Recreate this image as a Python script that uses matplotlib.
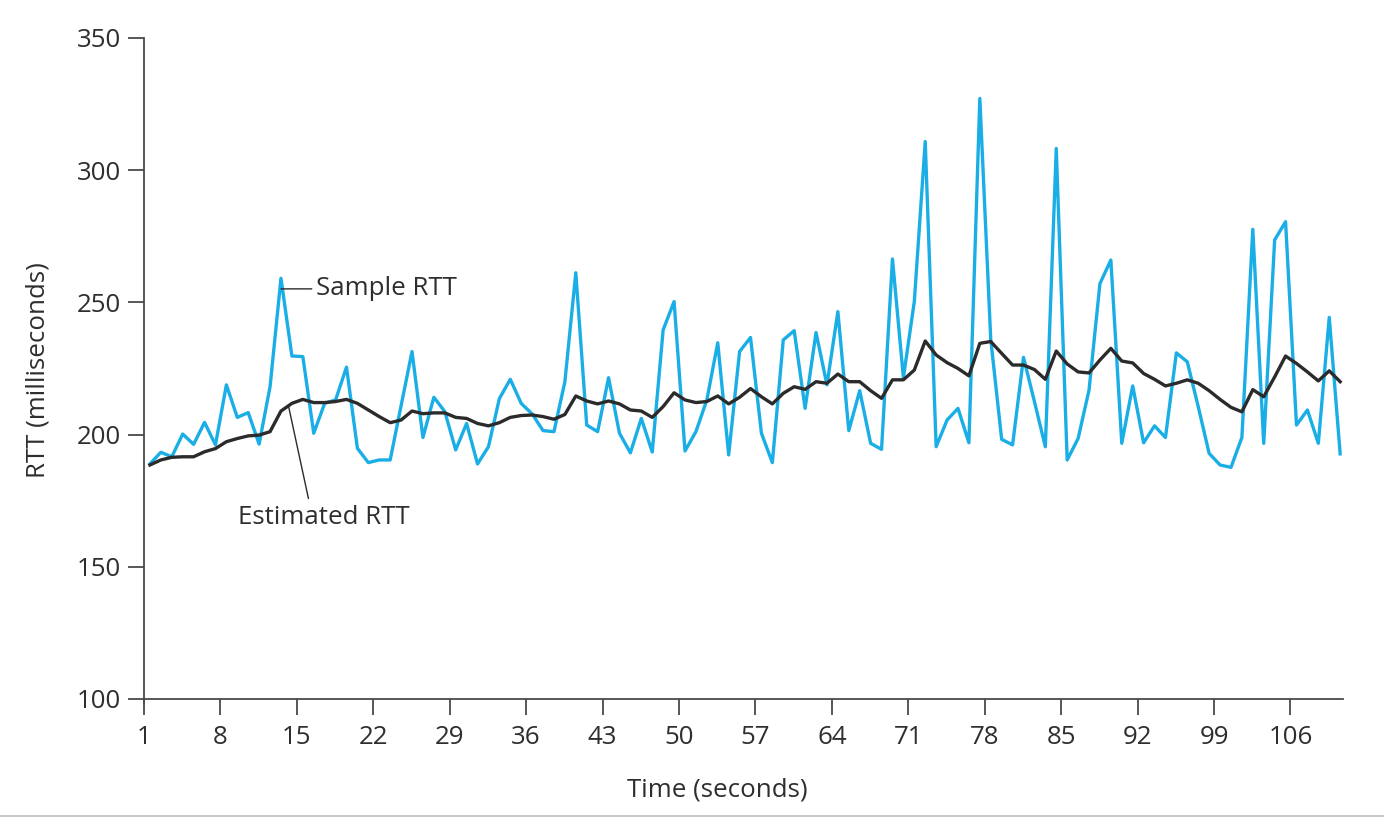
import numpy as np
import matplotlib.pyplot as plt
from matplotlib.lines import Line2D

plt.rcParams['font.family'] = ['Open Sans', 'DejaVu Sans']

# RTT samples (ms), one per second
sample_rtt = [
    188.9, 193.3, 191.6, 200.2, 196.3, 204.6, 196.1, 218.8, 206.5, 208.3,
    196.4, 218.1, 259.1, 229.7, 229.5, 200.5, 211.8, 213.1, 225.5, 194.8,
    189.4, 190.4, 190.4, 210.9, 231.4, 198.9, 214.1, 208.7, 194.2, 204.2,
    188.9, 195.4, 213.6, 220.9, 211.8, 207.8, 201.5, 201.1, 220.0, 261.2,
    203.6, 201.1, 221.5, 200.5, 193.1, 206.1, 193.4, 239.6, 250.3, 193.8,
    201.1, 213.1, 234.7, 192.3, 231.4, 236.7, 200.5, 189.4, 235.8, 239.3,
    209.9, 238.6, 218.8, 246.5, 201.5, 216.6, 196.7, 194.4, 266.4, 221.5,
    250.3, 310.8, 195.4, 205.5, 209.9, 196.9, 327.1, 236.0, 198.2, 196.1,
    229.2, 212.5, 195.4, 308.2, 190.4, 198.5, 216.8, 257.1, 266.0, 196.7,
    218.4, 196.9, 203.3, 198.9, 230.9, 227.5, 210.6, 192.9, 188.5, 187.6,
    198.9, 277.6, 196.7, 273.6, 280.5, 203.6, 209.3, 196.7, 244.3, 192.7,
]

estimated_rtt = [
    188.5, 190.4, 191.4, 191.6, 191.6, 193.5, 194.7, 197.3, 198.5, 199.5,
    199.8, 201.1, 208.9, 211.8, 213.3, 212.1, 212.1, 212.5, 213.3, 211.8,
    209.3, 206.8, 204.5, 205.5, 208.9, 207.9, 208.2, 208.2, 206.5, 206.1,
    204.2, 203.3, 204.5, 206.5, 207.2, 207.4, 206.8, 205.8, 207.6, 214.6,
    212.7, 211.6, 212.7, 211.6, 209.3, 208.9, 206.5, 210.6, 215.8, 213.1,
    212.1, 212.5, 214.6, 211.6, 214.1, 217.4, 214.3, 211.6, 215.6, 218.1,
    217.1, 220.0, 219.4, 222.9, 220.0, 220.0, 216.6, 213.7, 220.7, 220.7,
    224.4, 235.4, 230.1, 227.2, 225.0, 222.2, 234.5, 235.2, 230.7, 226.3,
    226.3, 224.6, 220.9, 231.6, 226.7, 223.7, 223.3, 228.2, 232.6, 227.8,
    227.1, 223.1, 220.9, 218.4, 219.4, 220.7, 219.4, 216.6, 213.3, 210.3,
    208.6, 217.0, 214.3, 221.8, 229.7, 226.9, 223.7, 220.3, 224.1, 220.0,
]

time_ticks = list(range(1, 107, 7))
rtt_ticks = [100, 150, 200, 250, 300, 350]

seconds = np.arange(1, len(sample_rtt) + 1)
x_offset = 0.55  # samples sit slightly right of the tick marks in the original

blue = '#1aaee6'
dark = '#2b2b2b'
axis_col = '#4a4a4a'
text_col = '#2e2e2e'
fs = 18.6

fig = plt.figure(figsize=(13.84, 8.18), dpi=100)
ax = fig.add_axes([0.1040, 0.1455, 0.8663, 0.8081])

ax.plot(seconds + x_offset, sample_rtt, color=blue, lw=2.4)
ax.plot(seconds + x_offset, estimated_rtt, color=dark, lw=2.4)

ax.set_xlim(1, 110.8)
ax.set_ylim(100, 350)
ax.set_xticks(time_ticks)
ax.set_yticks(rtt_ticks)

for side in ['top', 'right']:
    ax.spines[side].set_visible(False)
for side in ['left', 'bottom']:
    ax.spines[side].set_color(axis_col)
    ax.spines[side].set_linewidth(1.3)
ax.spines['left'].set_bounds(98.6, 350)

ax.tick_params(axis='both', direction='out', length=11.5, width=1.3,
               color=axis_col, labelsize=fs, labelcolor=text_col)
ax.tick_params(axis='x', pad=7)
ax.tick_params(axis='y', pad=5)

ax.set_xlabel('Time (seconds)', fontsize=fs, color=text_col, va='center')
ax.xaxis.set_label_coords(0.478, -0.138)
ax.set_ylabel('RTT (milliseconds)', fontsize=fs, color=text_col, va='center')
ax.yaxis.set_label_coords(-0.088, 0.498)

# labels with leader lines
ax.annotate('Sample RTT', xy=(seconds[12] + x_offset, 255.1), xytext=(16.75, 255.1),
            fontsize=fs, color=text_col, ha='left', va='center',
            arrowprops=dict(arrowstyle='-', color=dark, lw=1.0, shrinkA=1, shrinkB=0))
ax.annotate('Estimated RTT', xy=(14.25, 210.6), xytext=(9.6, 168.5),
            fontsize=fs, color=text_col, ha='left', va='center',
            arrowprops=dict(arrowstyle='-', color=dark, lw=1.0, shrinkA=3, shrinkB=0,
                            relpos=(0.42, 1.0)))

# thin rule along the bottom edge
fig.add_artist(Line2D([0, 1], [0.0022, 0.0022], transform=fig.transFigure,
                      color='#bdbdbd', lw=1.2))

fig.savefig('out.png', dpi=100)
